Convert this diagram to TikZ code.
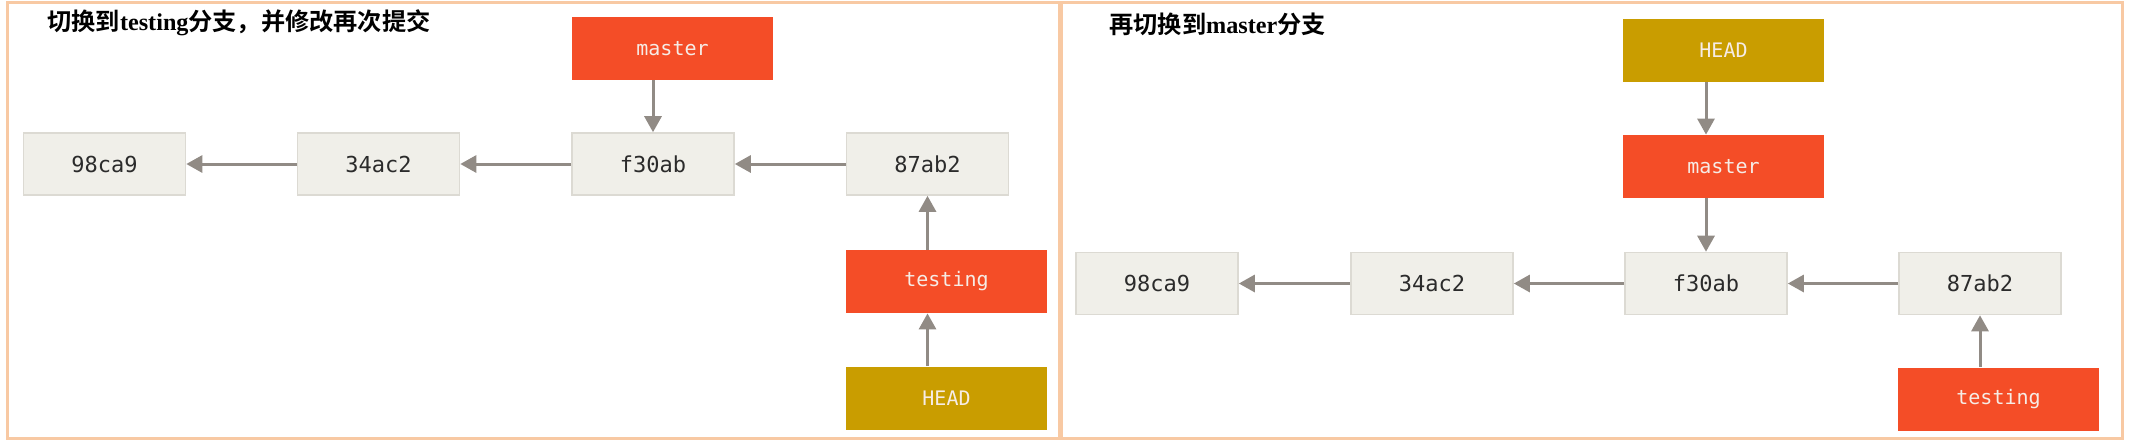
\documentclass[tikz,border=0pt]{standalone}
\usepackage{fontspec}
\setmainfont{Liberation Serif}
\setmonofont{DejaVu Sans Mono}
\newfontfamily\cjk{Noto Sans CJK SC}[BoldFont={* Bold}]
\usetikzlibrary{
  arrows.meta,
  positioning,
  calc
}
\definecolor{gitBranch}{HTML}{F44D27}
\definecolor{gitHead}{HTML}{C99D00}
\definecolor{gitCommit}{HTML}{F0EFE9}
\definecolor{gitCommitLine}{HTML}{DCDAD3}
\definecolor{gitArrow}{HTML}{918B85}
\definecolor{gitText}{HTML}{2B2B2B}
\definecolor{gitLabel}{HTML}{F6ECE6}
\definecolor{gitFrame}{HTML}{F8C9A3}
\tikzset{
  commit/.style={
    draw=gitCommitLine, fill=gitCommit, line width=0.8pt, inner sep=0pt,
    minimum width=81pt, minimum height=31pt,
    font=\ttfamily\fontsize{11}{11}\selectfont, text=gitText
  },
  branch/.style={
    fill=gitBranch, inner sep=0pt, minimum width=100.5pt, minimum height=31.5pt,
    font=\ttfamily\fontsize{10}{10}\selectfont, text=gitLabel
  },
  headref/.style={branch, fill=gitHead},
  parent/.style={-{Triangle[length=8pt, width=8.5pt]}, line width=1.5pt, gitArrow},
  panel/.style={draw=gitFrame, line width=1.5pt},
  title/.style={anchor=west, font=\fontsize{12.1}{12.1}\selectfont\bfseries, inner sep=0pt}
}

\begin{document}
\begin{tikzpicture}[x=0.5pt, y=-0.5pt]
  \useasboundingbox (0,0) rectangle (2130,441);
  \draw[panel] (7,2) rectangle (1059,438);
  \draw[panel] (1061,2) rectangle (2122,438);

  % left panel: commit on testing
  \node[title] (ltitle) at (47,23) {{\cjk 切换到}testing{\cjk 分支，并修改再次提交}};
  \foreach \id/\hash/\x in {l98/98ca9/104.5, l34/34ac2/378.5, lf30/f30ab/653, l87/87ab2/927.5}{
    \node[commit] (\id) at (\x,164) {\hash};
  }
  \node[branch] (lmaster) at (672.5,48.5) {master};
  \node[branch] (ltesting) at (946.5,281.5) {testing};
  \node[headref] (lhead) at (946.5,398) {HEAD};
  \draw[parent] (l34) -- (l98);
  \draw[parent] (lf30) -- (l34);
  \draw[parent] (l87) -- (lf30);
  \draw[parent] (lmaster.south -| lf30) -- (lf30.north);
  \draw[parent] (ltesting.north -| l87) -- (l87.south);
  \draw[parent] (lhead.north -| l87) -- (ltesting.south -| l87);

  % right panel: back on master
  \node[title] (rtitle) at (1109,24) {{\cjk 再切换到}master{\cjk 分支}};
  \foreach \id/\hash/\x in {r98/98ca9/1157, r34/34ac2/1432, rf30/f30ab/1706, r87/87ab2/1980}{
    \node[commit] (\id) at (\x,283.5) {\hash};
  }
  \node[headref] (rhead) at (1723.5,50) {HEAD};
  \node[branch] (rmaster) at (1723.5,166.5) {master};
  \node[branch] (rtesting) at (1998.5,399) {testing};
  \draw[parent] (r34) -- (r98);
  \draw[parent] (rf30) -- (r34);
  \draw[parent] (r87) -- (rf30);
  \draw[parent] (rhead.south -| rf30) -- (rmaster.north -| rf30);
  \draw[parent] (rmaster.south -| rf30) -- (rf30.north);
  \draw[parent] (rtesting.north -| r87) -- (r87.south);
\end{tikzpicture}
\end{document}
